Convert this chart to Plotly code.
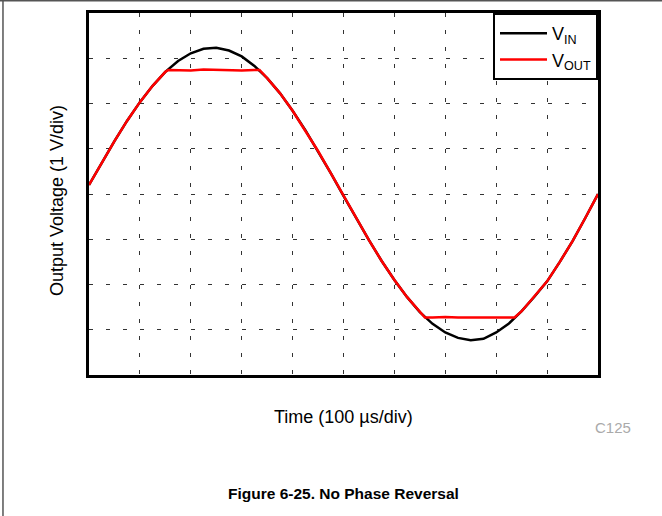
import plotly.graph_objects as go

# Time in microseconds (100 us/div), voltage in volts (1 V/div)
t_in = [0, 25, 50, 75, 100, 125, 150, 175, 200, 225, 250, 275, 300, 325, 350,
        375, 400, 425, 450, 475, 500, 525, 550, 575, 600, 625, 650, 675, 700,
        725, 750, 775, 800, 825, 850, 875, 900, 925, 950, 975, 1000]
v_in = [0.20, 0.69, 1.17, 1.62, 2.03, 2.39, 2.70, 2.94, 3.11, 3.21, 3.23, 3.17,
        3.04, 2.83, 2.56, 2.23, 1.84, 1.41, 0.95, 0.46, -0.04, -0.54, -1.02,
        -1.48, -1.90, -2.28, -2.61, -2.87, -3.06, -3.18, -3.23, -3.20, -3.06,
        -2.86, -2.59, -2.27, -1.93, -1.50, -1.04, -0.53, 0.00]

t_out = [0, 25, 50, 75, 100, 125, 150, 156, 175, 200, 225, 250, 275, 300, 325,
         335, 350, 375, 400, 425, 450, 475, 500, 525, 550, 575, 600, 625, 650,
         660, 675, 700, 725, 750, 775, 800, 825, 836, 850, 875, 900, 925, 950,
         975, 1000]
v_out = [0.20, 0.69, 1.17, 1.62, 2.03, 2.39, 2.70, 2.74, 2.74, 2.73, 2.75, 2.74,
         2.74, 2.73, 2.74, 2.74, 2.56, 2.23, 1.84, 1.41, 0.95, 0.46, -0.04,
         -0.54, -1.02, -1.48, -1.90, -2.28, -2.61, -2.73, -2.73, -2.72, -2.73,
         -2.73, -2.72, -2.73, -2.73, -2.73, -2.59, -2.27, -1.93, -1.50, -1.04,
         -0.53, 0.00]

x_range = [0, 1000]
y_range = [-4, 4]
x_dtick = 100
y_dtick = 1

FONT = "Liberation Sans, Arial, sans-serif"

fig = go.Figure()
fig.add_trace(go.Scatter(x=t_in, y=v_in, mode="lines", name="V<sub>IN</sub>",
                         line=dict(color="#000000", width=2.5)))
fig.add_trace(go.Scatter(x=t_out, y=v_out, mode="lines", name="V<sub>OUT</sub>",
                         line=dict(color="#ff0000", width=2.5)))

axis_common = dict(showline=True, linecolor="black", linewidth=3, mirror=True,
                   showticklabels=False, ticks="", zeroline=False,
                   showgrid=True, gridcolor="#333333", gridwidth=1,
                   griddash="4px,13px")

fig.update_xaxes(range=x_range, dtick=x_dtick, tick0=0, **axis_common)
fig.update_yaxes(range=y_range, dtick=y_dtick, tick0=-4, **axis_common)

def ann(text, x, y, size, color="black", angle=0, family=FONT):
    return dict(text=text, xref="paper", yref="paper", x=x, y=y,
                xanchor="center", yanchor="middle", textangle=angle,
                showarrow=False, font=dict(family=family, size=size, color=color))

fig.update_layout(
    width=662, height=516,
    margin=dict(l=89, r=64, t=13, b=141, autoexpand=False),
    paper_bgcolor="white", plot_bgcolor="white",
    font=dict(family=FONT, size=17, color="black"),
    showlegend=True,
    legend=dict(x=1, y=1, xanchor="right", yanchor="top",
                bgcolor="white", bordercolor="black", borderwidth=2,
                font=dict(family=FONT, size=18, color="black"),
                itemwidth=47, tracegroupgap=0),
    annotations=[
        ann("Output Voltage (1 V/div)", -0.063, 0.483, 18, angle=-90),
        ann("Time (100 µs/div)", 0.5, -0.116, 18),
        ann("C125", 1.029, -0.146, 15, color="#aaaaaa"),
        ann("<b>Figure 6-25. No Phase Reversal</b>", 0.5, -0.326, 15.5),
    ],
    shapes=[
        dict(type="line", xref="paper", yref="paper", x0=-0.175, x1=1.13,
             y0=1.034, y1=1.034, line=dict(color="#555555", width=1.5)),
        dict(type="line", xref="paper", yref="paper", x0=-0.169, x1=-0.169,
             y0=1.034, y1=-0.395, line=dict(color="#555555", width=1.5)),
    ],
)

fig.write_html("out.html", config={"displayModeBar": False},
               post_script="document.body.style.margin='0';document.body.style.padding='0';")
